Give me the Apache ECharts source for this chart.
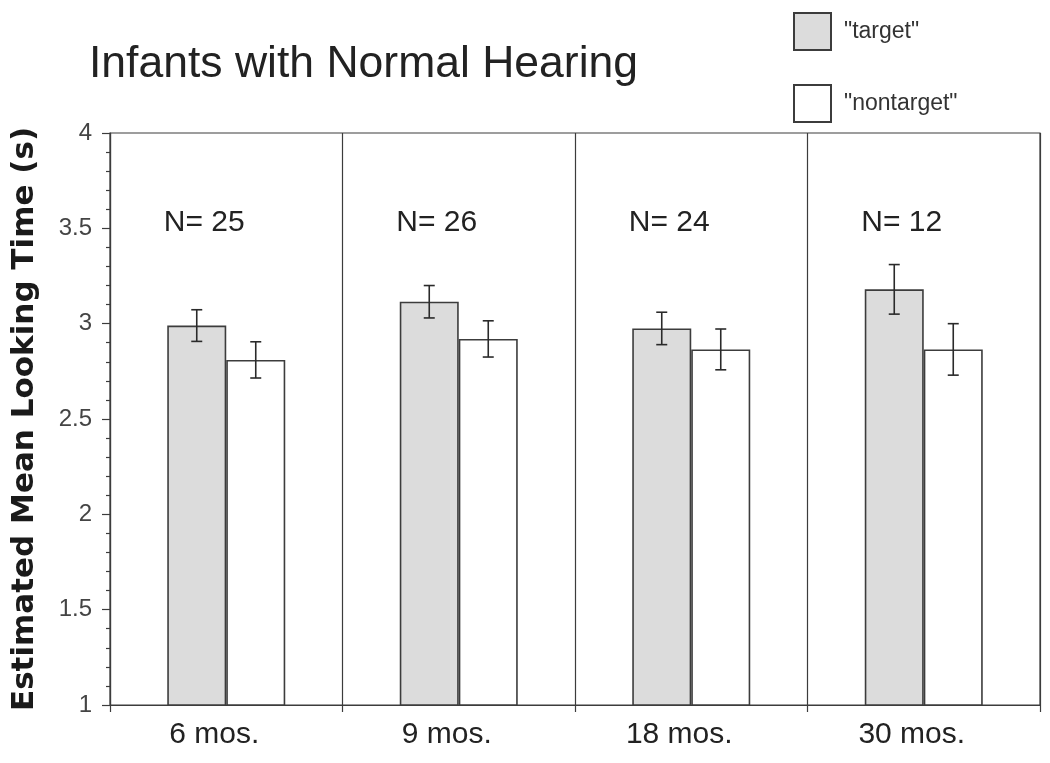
<!DOCTYPE html>
<html>
<head>
<meta charset="utf-8">
<script src="https://cdn.jsdelivr.net/npm/echarts@6/dist/echarts.min.js"></script>
<style>html,body{margin:0;padding:0;background:#fff;}#c{width:1050px;height:763px;}</style>
</head>
<body>
<div id="c"></div>
<script>
// ---- data ----
const categories = ['6 mos.', '9 mos.', '18 mos.', '30 mos.'];
const nCounts = [25, 26, 24, 12];
const targetMean = [2.99, 3.115, 2.975, 3.18];
const targetSE = [0.083, 0.085, 0.085, 0.13];
const nontargetMean = [2.81, 2.92, 2.865, 2.865];
const nontargetSE = [0.095, 0.095, 0.107, 0.135];
const yTicks = [1, 1.5, 2, 2.5, 3, 3.5, 4];

// ---- layout constants ----
const BAR_W = 59;
const N_LABEL_Y = 3.53;
const FONT = '"Liberation Sans", Arial, Helvetica, sans-serif';
const EDGE = '#3c3c3c';

const chart = echarts.init(document.getElementById('c'), null, {renderer: 'canvas'});

function errRender(sign) {
  return function (params, api) {
    const i = api.value(0);
    const lo = api.coord([i, api.value(1)]);
    const hi = api.coord([i, api.value(2)]);
    const x = lo[0] + sign * BAR_W / 2;
    const cap = 5.5;
    const st = {stroke: '#2a2a2a', lineWidth: 1.6};
    return {
      type: 'group',
      children: [
        {type: 'line', shape: {x1: x, y1: lo[1], x2: x, y2: hi[1]}, style: st},
        {type: 'line', shape: {x1: x - cap, y1: hi[1], x2: x + cap, y2: hi[1]}, style: st},
        {type: 'line', shape: {x1: x - cap, y1: lo[1], x2: x + cap, y2: lo[1]}, style: st}
      ]
    };
  };
}

const option = {
  backgroundColor: '#fff',
  animation: false,
  title: {
    text: 'Infants with Normal Hearing',
    left: 84, top: 37,
    textStyle: {fontFamily: FONT, fontSize: 44.5, fontWeight: 'normal', color: '#222'}
  },
  legend: {
    orient: 'vertical',
    left: 788, top: 7,
    itemWidth: 37, itemHeight: 37, itemGap: 33,
    icon: 'rect',
    selectedMode: false,
    data: ['"target"', '"nontarget"'],
    textStyle: {fontFamily: FONT, fontSize: 23, color: '#333', padding: [0, 0, 0, 8]}
  },
  grid: {
    left: 110, right: 10, top: 133, bottom: 58,
    containLabel: false,
    outerBoundsMode: 'none',
    show: true, borderColor: EDGE, borderWidth: 1.2, backgroundColor: 'transparent'
  },
  xAxis: {
    type: 'category',
    data: categories,
    boundaryGap: true,
    axisLine: {show: true, lineStyle: {color: EDGE, width: 1.2}},
    axisTick: {show: true, length: 7, inside: false, lineStyle: {color: EDGE, width: 1.2}},
    splitLine: {show: true, lineStyle: {color: EDGE, width: 1.2}},
    axisLabel: {
      fontFamily: FONT, fontSize: 30, color: '#222', margin: 15,
      padding: [0, 24, 0, 0]
    }
  },
  yAxis: {
    type: 'value',
    min: 1, max: 4, interval: 0.5,
    name: 'Estimated Mean Looking Time (s)',
    nameLocation: 'middle',
    nameRotate: 90,
    nameGap: 70,
    nameMoveOverlap: false,
    nameTextStyle: {fontFamily: '"DejaVu Sans", sans-serif', fontSize: 31, fontWeight: 'bold', color: '#1a1a1a'},
    axisLine: {show: true, lineStyle: {color: EDGE, width: 1.2}},
    axisTick: {show: true, length: 8, inside: false, lineStyle: {color: EDGE, width: 1.2}},
    minorTick: {show: true, splitNumber: 5, length: 4, lineStyle: {color: EDGE, width: 1.2}},
    splitLine: {show: false},
    axisLabel: {
      fontFamily: FONT, fontSize: 24, color: '#444', margin: 18,
      formatter: function (v) { return yTicks.indexOf(v) >= 0 ? String(v) : ''; }
    }
  },
  series: [
    {
      name: '"target"', type: 'bar', barWidth: BAR_W, barGap: '0%',
      data: targetMean,
      itemStyle: {color: '#dcdcdc', borderColor: EDGE, borderWidth: 1.6},
      z: 2
    },
    {
      name: '"nontarget"', type: 'bar', barWidth: BAR_W, barGap: '0%',
      data: nontargetMean,
      itemStyle: {color: '#ffffff', borderColor: EDGE, borderWidth: 1.6},
      z: 2
    },
    {
      type: 'custom', name: 'errT', renderItem: errRender(-1),
      data: targetMean.map((v, i) => [i, v - targetSE[i], v + targetSE[i]]),
      encode: {x: 0, y: [1, 2]}, z: 5, silent: true
    },
    {
      type: 'custom', name: 'errN', renderItem: errRender(1),
      data: nontargetMean.map((v, i) => [i, v - nontargetSE[i], v + nontargetSE[i]]),
      encode: {x: 0, y: [1, 2]}, z: 5, silent: true
    },
    {
      type: 'custom', name: 'nlab',
      renderItem: function (params, api) {
        const i = api.value(0);
        const p = api.coord([i, api.value(1)]);
        return {
          type: 'text',
          x: p[0] - 22, y: p[1],
          style: {
            text: 'N= ' + nCounts[i],
            fontFamily: FONT, fontSize: 30, fill: '#222',
            align: 'center', verticalAlign: 'middle'
          }
        };
      },
      data: nCounts.map((n, i) => [i, N_LABEL_Y]),
      encode: {x: 0, y: 1}, z: 6, silent: true
    }
  ]
};
chart.setOption(option);
</script>
</body>
</html>
